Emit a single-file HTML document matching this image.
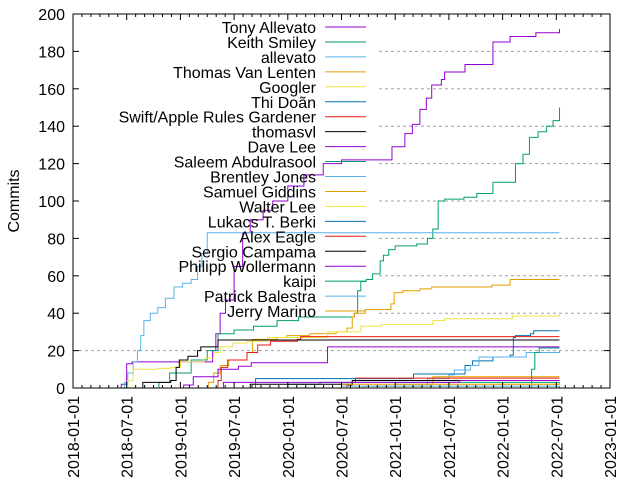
<!DOCTYPE html>
<html><head><meta charset="utf-8"><style>
body{margin:0;background:#fff}
svg{display:block;font-family:"Liberation Sans",sans-serif}
</style></head><body>
<svg id="chart" width="640" height="480" viewBox="0 0 640 480">
<g id="grid"></g>
<rect x="73" y="14" width="304" height="306" fill="#fff"></rect>
<g id="series"></g>
<g id="axes"></g>
<g id="legend"></g>
<text x="0" y="0" transform="translate(19,201) rotate(-90)" text-anchor="middle" font-size="16">Commits</text>
</svg>
<script>
const names=["Tony Allevato","Keith Smiley","allevato","Thomas Van Lenten","Googler","Thi Doãn","Swift/Apple Rules Gardener","thomasvl","Dave Lee","Saleem Abdulrasool","Brentley Jones","Samuel Giddins","Walter Lee","Lukacs T. Berki","Alex Eagle","Sergio Campama","Philipp Wollermann","kaipi","Patrick Balestra","Jerry Marino"];
const yTicks=[0,20,40,60,80,100,120,140,160,180,200];
const xTickLabels=["2018-01-01","2018-07-01","2019-01-01","2019-07-01","2020-01-01","2020-07-01","2021-01-01","2021-07-01","2022-01-01","2022-07-01","2023-01-01"];
const sTony=[[2018.42,0],[2018.45,2],[2018.50,13],[2018.55,14],[2019.25,14],[2019.30,20],[2019.33,29],[2019.37,40],[2019.42,47],[2019.50,65],[2019.58,83],[2019.65,90],[2019.77,95],[2019.86,100],[2020.0,108],[2020.15,114],[2020.33,120],[2020.5,122],[2020.97,129],[2021.09,136],[2021.16,141],[2021.23,149],[2021.29,155],[2021.34,162],[2021.43,165],[2021.46,169],[2021.65,173],[2021.91,185],[2022.07,188],[2022.31,190],[2022.53,192]];
const sKeith=[[2018.75,0],[2018.8,3],[2018.9,8],[2019.1,15],[2019.25,20],[2019.35,29],[2019.5,31],[2019.68,33],[2019.9,36],[2020.1,38],[2020.62,40],[2020.65,52],[2020.68,57],[2020.73,58],[2020.79,61],[2020.86,68],[2020.89,71],[2020.94,74],[2021.0,76],[2021.2,77],[2021.3,80],[2021.35,85],[2021.4,100],[2021.46,101],[2021.64,102],[2021.76,104],[2021.91,110],[2022.12,120],[2022.19,125],[2022.25,134],[2022.33,137],[2022.41,140],[2022.47,143],[2022.53,150]];
const sAllevato=[[2018.45,0],[2018.48,3],[2018.51,8],[2018.56,14],[2018.6,20],[2018.63,28],[2018.66,36],[2018.72,40],[2018.79,43],[2018.86,48],[2018.94,54],[2019.02,56],[2019.10,58],[2019.16,65],[2019.2,72],[2019.25,83],[2022.53,83]];
const sThomas=[[2019.25,0],[2019.26,3],[2019.31,8],[2019.37,12],[2019.45,15],[2019.62,19],[2019.67,26],[2019.9,27],[2019.99,28],[2020.2,29],[2020.45,30],[2020.55,32],[2020.6,38],[2020.62,40],[2020.72,42],[2020.96,45],[2020.99,51],[2021.07,52],[2021.23,53],[2021.34,54],[2021.9,55],[2022.07,58],[2022.53,58]];
const sGoogler=[[2018.45,0],[2018.51,4],[2018.56,10],[2018.79,10.5],[2018.91,11],[2019.0,14],[2019.22,16],[2019.31,19],[2019.37,22],[2019.49,24],[2019.62,25],[2019.81,27],[2020.37,30],[2020.68,33],[2020.87,34],[2021.35,36],[2021.46,37],[2022.09,38.5],[2022.53,40.5]];
const sThi=[[2019.68,0],[2019.7,5],[2021.17,7.5],[2021.65,12],[2021.72,14.5],[2021.91,16.6],[2022.07,17.6],[2022.10,27],[2022.12,28],[2022.26,29],[2022.29,30.6],[2022.53,30.6]];
const sRules=[[2019.33,0],[2019.35,4],[2019.38,11],[2019.44,15],[2019.62,19],[2019.72,23],[2019.84,25],[2020.09,26],[2020.12,27.5],[2022.53,27.5]];
const sThomasvl=[[2018.6,0],[2018.65,3],[2018.91,4],[2018.96,11],[2018.99,15],[2019.07,17],[2019.16,20],[2019.19,22],[2019.35,25.7],[2022.53,25.7]];
const sDave=[[2019.0,0],[2019.03,1.6],[2019.12,6],[2019.35,10],[2019.54,11.6],[2019.66,13.5],[2020.37,22],[2022.53,22]];
const sSaleem=[[2019.9,0],[2020.0,2],[2020.3,3],[2022.53,3]];
const sBrentley=[[2020.7,0],[2020.72,1],[2021.0,2],[2021.3,5],[2021.5,7],[2021.55,9.6],[2021.7,12],[2021.78,16.6],[2022.22,19],[2022.53,20]];
const sSamuel=[[2020.6,0],[2020.7,1],[2021.3,2],[2021.35,6],[2022.53,6]];
const sWalter=[[2020.5,0],[2021.1,1],[2021.9,2],[2022.53,2]];
const sLukacs=[[2021.0,0],[2022.53,1]];
const sAlex=[[2020.5,0],[2020.55,1.5],[2020.6,3],[2020.63,5.3],[2022.53,5.3]];
const sSergio=[[2019.6,0],[2019.65,2],[2020.6,4],[2022.53,4]];
const sPhilipp=[[2019.2,0],[2019.4,3],[2021.6,4],[2022.53,4]];
const sKaipi=[[2022.24,0],[2022.27,10],[2022.3,19],[2022.34,21.4],[2022.53,21.4]];
const sPatrick=[[2020.2,0],[2020.5,1],[2022.53,1]];
const sJerry=[[2019.8,0],[2020.5,2],[2022.53,2.7]];
const allSeries=[sTony,sKeith,sAllevato,sThomas,sGoogler,sThi,sRules,sThomasvl,sDave,sSaleem,sBrentley,sSamuel,sWalter,sLukacs,sAlex,sSergio,sPhilipp,sKaipi,sPatrick,sJerry];
const colors=["#9400d3","#009e73","#56b4e9","#e69f00","#f0e442","#0072b2","#e51e10","#000000"];
const X0=73,X1=610,Y0=388,Y1=14;
const xs=t=>X0+(t-2018)/5*(X1-X0);
const ys=v=>Y0-v/200*(Y0-Y1);
const NS="http://www.w3.org/2000/svg";
function mk(tag,attrs,parent){const e=document.createElementNS(NS,tag);for(const k in attrs)e.setAttribute(k,attrs[k]);parent.appendChild(e);return e;}
const grid=document.getElementById('grid'),axes=document.getElementById('axes'),ser=document.getElementById('series'),leg=document.getElementById('legend');
yTicks.forEach(v=>{
  if(v>0&&v<200){const g=mk('line',{x1:X0,x2:X1,y1:ys(v),y2:ys(v),stroke:'#a0a0a0','stroke-dasharray':'3,3','stroke-width':1},grid);
  
  }
  const t=mk('line',{x1:X0,x2:X0+6,y1:ys(v),y2:ys(v),stroke:'#000'},axes);
  
  
  mk('line',{x1:X1-6,x2:X1,y1:ys(v),y2:ys(v),stroke:'#000'},axes);
  const l=mk('text',{x:65,y:ys(v)+6,'text-anchor':'end','font-size':16},axes);l.textContent=v;
  
  
});
for(let m=0;m<=60;m++){const x=xs(2018+m/12);const len=m%6===0?6:3;
  mk('line',{x1:x,x2:x,y1:Y0,y2:Y0-len,stroke:'#000'},axes);
  mk('line',{x1:x,x2:x,y1:Y1,y2:Y1+len,stroke:'#000'},axes);}
xTickLabels.forEach((s,i)=>{const x=xs(2018+i/2);
  const l=mk('text',{x:0,y:0,transform:`translate(${x+6},396) rotate(-90)`,'text-anchor':'end','font-size':16},axes);l.textContent=s;
  
  });
mk('rect',{x:X0,y:Y1,width:X1-X0,height:Y0-Y1,fill:'none',stroke:'#000'},axes);
allSeries.forEach((d,i)=>{
  let p=`M${xs(d[0][0])},${ys(d[0][1])}`;
  for(let k=1;k<d.length;k++){p+=`H${xs(d[k][0])}V${ys(d[k][1])}`;}
  const e=mk('path',{d:p,fill:'none',stroke:colors[i%8],'stroke-width':1},ser);
  
  
});
names.forEach((n,i)=>{const y=27+i*14.95;
  const t=mk('text',{x:316,y:y+6,'text-anchor':'end','font-size':16},leg);t.textContent=n;
  
  
  mk('line',{x1:325,x2:366,y1:y,y2:y,stroke:colors[i%8]},leg);});
</script>
</body></html>
